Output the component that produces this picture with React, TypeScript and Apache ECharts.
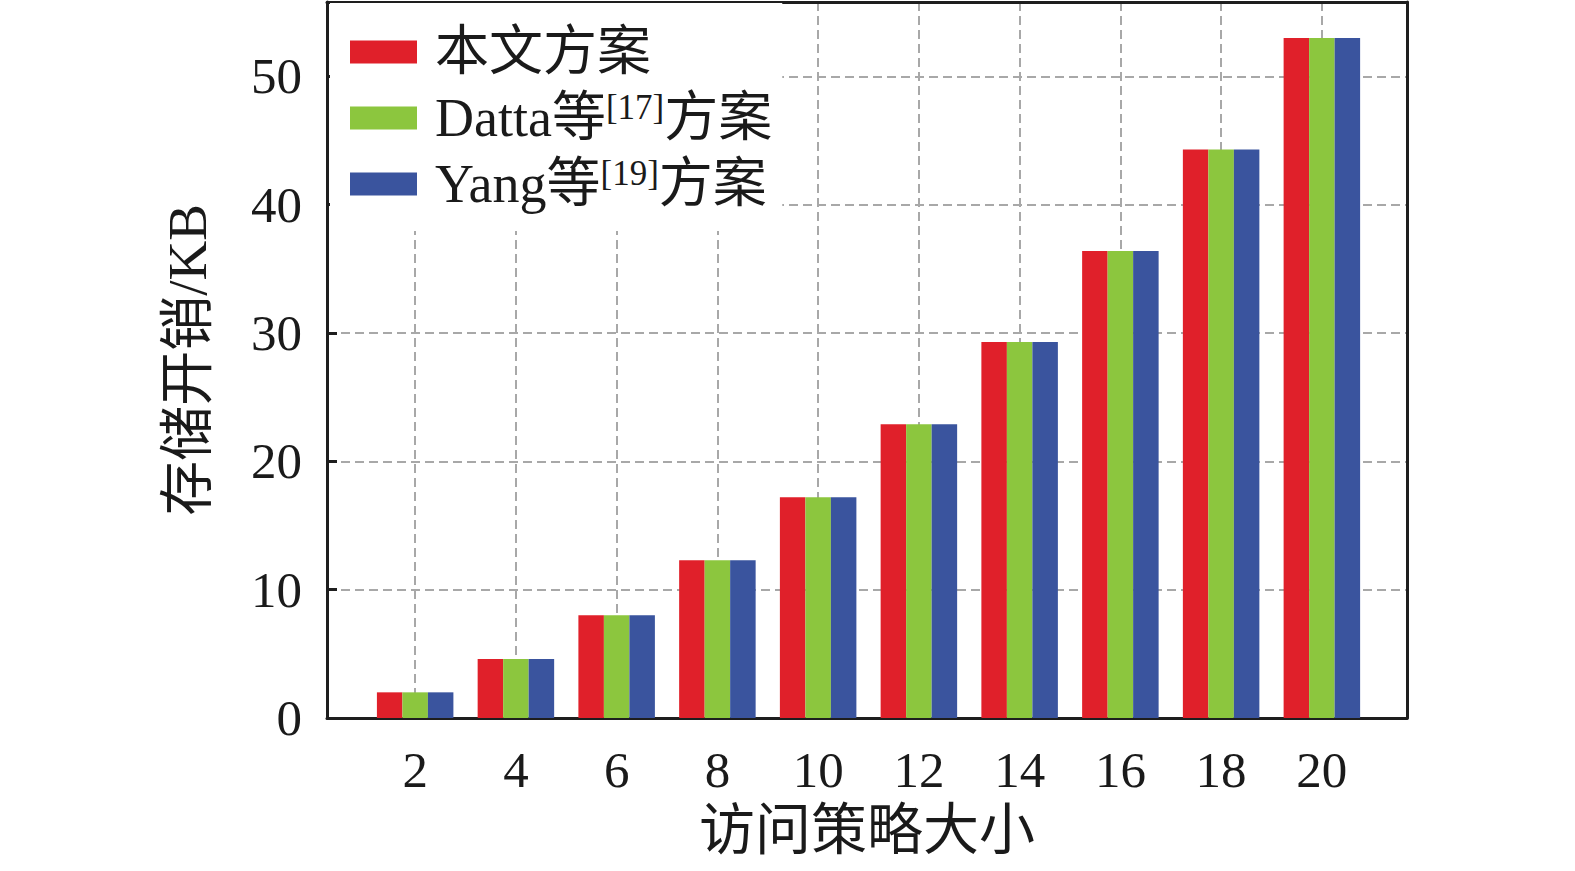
import React, { useEffect, useRef } from "react";
import * as echarts from "echarts";

const categories = [2, 4, 6, 8, 10, 12, 14, 16, 18, 20];
const oursValues = [2.0, 4.6, 8.0, 12.3, 17.2, 22.9, 29.3, 36.4, 44.3, 53.0];
const dattaValues = [2.0, 4.6, 8.0, 12.3, 17.2, 22.9, 29.3, 36.4, 44.3, 53.0];
const yangValues = [2.0, 4.6, 8.0, 12.3, 17.2, 22.9, 29.3, 36.4, 44.3, 53.0];
const seriesNames = ["本文方案", "Datta等[17]方案", "Yang等[19]方案"];
const legendRich: Record<string, string> = {
  "本文方案": "{a|本文方案}",
  "Datta等[17]方案": "{a|Datta等}{s|[17]}{a|方案}",
  "Yang等[19]方案": "{a|Yang等}{s|[19]}{a|方案}",
};
const colors = ["#e0202a", "#8cc63e", "#3a549e"];

const FONT = "'Times New Roman', 'Liberation Serif', 'Noto Sans CJK SC', serif";
const TEXT = "#1a1a1a";
const AXIS = "#1e1e1e";

export default function App() {
  const ref = useRef<HTMLDivElement>(null);
  useEffect(() => {
    document.body.style.margin = "0";
    document.body.style.overflow = "hidden";
    if (!ref.current) return;
    const chart = echarts.init(ref.current, undefined, { renderer: "svg" });
    const mk = (vals: number[]) => categories.map((c, i) => [c, vals[i]]);
    const valueSets = [oursValues, dattaValues, yangValues];
    const frameAxis = {
      axisLine: { show: true, onZero: false, lineStyle: { color: AXIS, width: 3 } },
      axisTick: { show: false },
      axisLabel: { show: false },
      splitLine: { show: false },
    };
    const dashed = { color: "#a8a8a8", width: 2, type: [9, 5] };
    chart.setOption({
      animation: false,
      backgroundColor: "#ffffff",
      grid: {
        left: 327,
        right: 168,
        top: 2,
        bottom: 153,
      },
      legend: {
        orient: "vertical",
        left: 330,
        top: 3,
        padding: [22, 10, 20, 20],
        backgroundColor: "#ffffff",
        itemWidth: 67,
        itemHeight: 23,
        itemGap: 11,
        icon: "rect",
        data: seriesNames,
        formatter: (name: string) => legendRich[name] || name,
        textStyle: {
          fontFamily: FONT,
          fontSize: 54,
          color: TEXT,
          padding: [0, 0, 0, 13],
          rich: {
            a: { fontFamily: FONT, fontSize: 54, color: TEXT, lineHeight: 56 },
            s: {
              fontFamily: FONT,
              fontSize: 35,
              color: TEXT,
              lineHeight: 30,
              verticalAlign: "top",
            },
          },
        },
      },
      xAxis: [
        {
          type: "value",
          min: 0.25,
          max: 21.69,
          splitNumber: 10,
          minInterval: 2,
          maxInterval: 2,
          name: "访问策略大小",
          nameLocation: "middle",
          nameGap: 84,
          nameTextStyle: { fontFamily: FONT, fontSize: 56, color: TEXT },
          axisLine: { show: true, onZero: false, lineStyle: { color: AXIS, width: 3 } },
          axisTick: {
            show: true,
            inside: true,
            length: 14,
            lineStyle: { color: AXIS, width: 3 },
          },
          axisLabel: {
            fontFamily: FONT,
            fontSize: 51,
            color: TEXT,
            margin: 26,
            showMinLabel: false,
            showMaxLabel: false,
            formatter: (v: number) =>
              Math.abs(v - Math.round(v)) < 1e-6 && Math.round(v) % 2 === 0
                ? String(Math.round(v))
                : "",
          },
          splitLine: { show: true, lineStyle: dashed },
        },
        {
          type: "value",
          position: "top",
          min: 0.25,
          max: 21.69,
          ...frameAxis,
        },
      ],
      yAxis: [
        {
          type: "value",
          min: 0,
          max: 55.8,
          interval: 10,
          name: "存储开销/KB",
          nameLocation: "middle",
          nameGap: 112,
          nameTextStyle: { fontFamily: FONT, fontSize: 55, color: TEXT },
          axisLine: { show: true, onZero: false, lineStyle: { color: AXIS, width: 3 } },
          axisTick: {
            show: true,
            inside: true,
            length: 10,
            lineStyle: { color: AXIS, width: 3 },
          },
          axisLabel: {
            fontFamily: FONT,
            fontSize: 51,
            color: TEXT,
            margin: 25,
            formatter: (v: number) => (v % 10 === 0 ? String(v) : ""),
          },
          splitLine: { show: true, lineStyle: dashed },
        },
        {
          type: "value",
          position: "right",
          min: 0,
          max: 55.8,
          interval: 10,
          ...frameAxis,
        },
      ],
      series: seriesNames.map((name, i) => ({
        name,
        type: "bar",
        xAxisIndex: 0,
        yAxisIndex: 0,
        data: mk(valueSets[i]),
        barWidth: 25.5,
        barGap: "0%",
        itemStyle: { color: colors[i] },
      })),
    });
    return () => chart.dispose();
  }, []);
  return <div ref={ref} style={{ width: 1575, height: 871 }} />;
}
